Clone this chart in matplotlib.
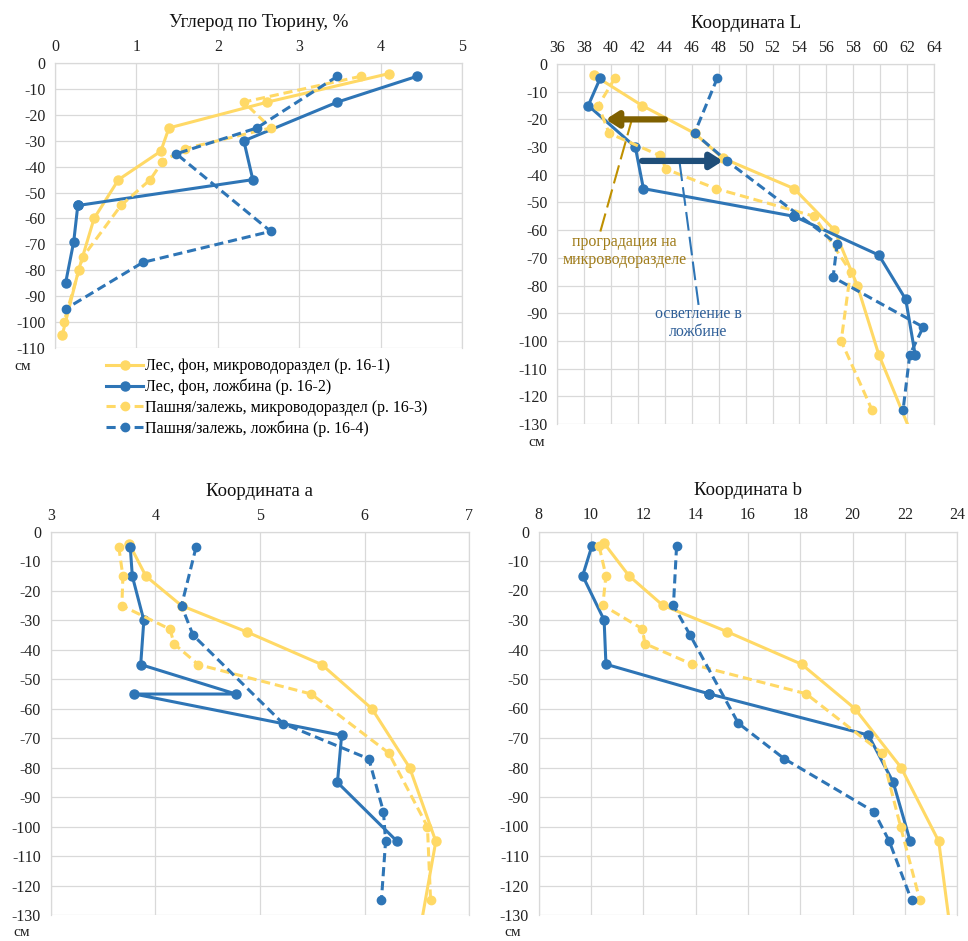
import numpy as np
import matplotlib
matplotlib.use("Agg")
import matplotlib.pyplot as plt

plt.rcParams['font.family'] = ['Liberation Serif', 'DejaVu Serif']

nan = np.nan

# ---- Data ----
labels = ["Лес, фон, микроводораздел (р. 16-1)",
          "Лес, фон, ложбина (р. 16-2)",
          "Пашня/залежь, микроводораздел (р. 16-3)",
          "Пашня/залежь, ложбина (р. 16-4)"]

depth_16_1 = [-4, -15, -25, -34, -45, -60, -80, -105, -145]
depth_16_2 = [-5, -15, -30, -45, -55, -55, -69, -85, -105]
depth_16_3 = [-5, -15, -25, -33, -38, -45, -55, -75, -100, -125]
depth_16_4 = [-5, -25, -35, -65, -77, -95, -105, -125]

carbon_16_1 = [4.10, 2.61, 1.40, 1.30, 0.78, 0.48, 0.29, 0.09, nan]
carbon_16_2 = [4.45, 3.47, 2.32, 2.43, 0.28, 0.28, 0.23, 0.13, nan]
carbon_16_3 = [3.76, 2.32, 2.65, 1.60, 1.32, 1.17, 0.81, 0.34, 0.11, nan]
carbon_16_4 = [3.47, 2.48, 1.49, 2.65, 1.08, 0.13, nan, nan]

L_16_1 = [38.7, 42.3, 46.2, 48.3, 53.6, 56.6, 58.3, 59.9, 63.3]
L_16_2 = [39.2, 38.3, 41.8, 42.4, 53.6, 53.6, 59.9, 61.9, 62.6]
L_16_3 = [40.3, 39.05, 39.85, 43.6, 44.1, 47.8, 55.1, 57.8, 57.1, 59.4]
L_16_4 = [47.9, 46.2, 48.6, 56.8, 56.5, 63.2, 62.2, 61.7]

a_16_1 = [3.75, 3.91, 4.25, 4.88, 5.59, 6.07, 6.43, 6.68, 6.48]
a_16_2 = [3.76, 3.78, 3.89, 3.86, 4.77, 3.80, 5.78, 5.74, 6.31]
a_16_3 = [3.65, 3.69, 3.68, 4.14, 4.18, 4.41, 5.49, 6.23, 6.60, 6.63]
a_16_4 = [4.39, 4.25, 4.36, 5.22, 6.04, 6.18, 6.20, 6.16]

b_16_1 = [10.50, 11.45, 12.74, 15.21, 18.05, 20.08, 21.85, 23.29, 23.88]
b_16_2 = [10.03, 9.68, 10.50, 10.57, 14.50, 14.50, 20.60, 21.55, 22.20]
b_16_3 = [10.31, 10.57, 10.45, 11.96, 12.06, 13.86, 18.22, 21.11, 21.83, 22.57]
b_16_4 = [13.27, 13.15, 13.78, 15.63, 17.38, 20.82, 21.40, 22.25]

titles = ["Углерод по Тюрину, %", "Координата L", "Координата a", "Координата b"]
xticks_list = [np.arange(0, 5.01, 1), np.arange(36, 64.1, 2),
               np.arange(3, 7.01, 1), np.arange(8, 24.1, 2)]
ylims = [-110, -130, -130, -130]

YELLOW = "#FFD966"
BLUE = "#2E75B6"
GRID = "#D9D9D9"

panels = [
    (carbon_16_1, carbon_16_2, carbon_16_3, carbon_16_4),
    (L_16_1, L_16_2, L_16_3, L_16_4),
    (a_16_1, a_16_2, a_16_3, a_16_4),
    (b_16_1, b_16_2, b_16_3, b_16_4),
]
depths = [depth_16_1, depth_16_2, depth_16_3, depth_16_4]
styles = [
    dict(color=YELLOW, linestyle='-'),
    dict(color=BLUE, linestyle='-'),
    dict(color=YELLOW, linestyle=(0, (3.0, 1.6))),
    dict(color=BLUE, linestyle=(0, (3.0, 1.6))),
]

W, H = 968, 941
fig = plt.figure(figsize=(W / 100, H / 100), dpi=100)


def px_box(left, top, right, bottom):
    return [left / W, 1 - bottom / H, (right - left) / W, (bottom - top) / H]


positions = [
    px_box(55, 63.3, 462, 347.7),
    px_box(557.3, 64, 934, 424),
    px_box(50.7, 532, 469.3, 915),
    px_box(538.7, 531.5, 957.3, 915),
]
sm_pos = [(23, 366), (537, 442), (22, 932), (513, 932)]

axes = []
handles = []
for i in range(4):
    ax = fig.add_axes(positions[i])
    axes.append(ax)
    vals = panels[i]
    for j in range(4):
        h, = ax.plot(vals[j], depths[j], marker='o', markersize=6.5 if j < 2 else 6,
                     linewidth=2.2, **styles[j])
        if i == 0:
            handles.append(h)
    xt = xticks_list[i]
    ax.set_xlim(xt[0], xt[-1])
    ax.set_ylim(ylims[i], 0)
    ax.set_xticks(xt)
    ax.set_xticklabels([f"{v:g}" for v in xt])
    yt = np.arange(ylims[i], 0.1, 10)
    ax.set_yticks(yt)
    ax.set_yticklabels([f"{int(v)}" for v in yt])
    ax.xaxis.tick_top()
    ax.tick_params(axis='both', length=0, labelsize=11.5, colors='#222222')
    ax.tick_params(axis='x', pad=6)
    ax.tick_params(axis='y', pad=7)
    ax.grid(True, color=GRID, linewidth=0.9)
    ax.set_axisbelow(True)
    for s in ax.spines.values():
        s.set_color(GRID)
        s.set_linewidth(0.9)
    ax.spines['bottom'].set_visible(False)
    ax.set_title(titles[i], fontsize=13.5, pad=26, color='#111111')
    fig.text(sm_pos[i][0] / W, 1 - sm_pos[i][1] / H, "см", fontsize=11,
             ha='center', va='center', color='#222222')

# Legend under the first panel
fig.legend(handles, labels, loc='upper left', bbox_to_anchor=(100 / W, 1 - 352 / H),
           frameon=False, fontsize=11.5, handlelength=2.3, handletextpad=0.1,
           labelspacing=0.28, borderaxespad=0)

# Annotations on L panel
axL = axes[1]
axL.annotate("", xy=(39.6, -20), xytext=(44.0, -20),
             arrowprops=dict(arrowstyle='-|>,head_length=0.7,head_width=0.45',
                             color='#7F6000', lw=4.5, shrinkA=0, shrinkB=0))
axL.annotate("", xy=(48.3, -35), xytext=(42.3, -35),
             arrowprops=dict(arrowstyle='-|>,head_length=0.7,head_width=0.45',
                             color='#1F4E79', lw=4.5, shrinkA=0, shrinkB=0))
axL.plot([39.2, 41.5], [-60.5, -20.8], color='#BF9000', lw=1.5,
         linestyle=(0, (9, 3)))
axL.plot([46.5, 45.1], [-87.0, -35.9], color=BLUE, lw=1.5,
         linestyle=(0, (9, 3)))
axL.text(41.0, -67.6, "проградация на\nмикроводоразделе", fontsize=11.5,
         color='#A07C1A', ha='center', va='center', linespacing=1.15)
axL.text(46.5, -93.6, "осветление в\nложбине", fontsize=11.5,
         color='#2F5F98', ha='center', va='center', linespacing=1.15)

fig.savefig("out.png", dpi=100)
